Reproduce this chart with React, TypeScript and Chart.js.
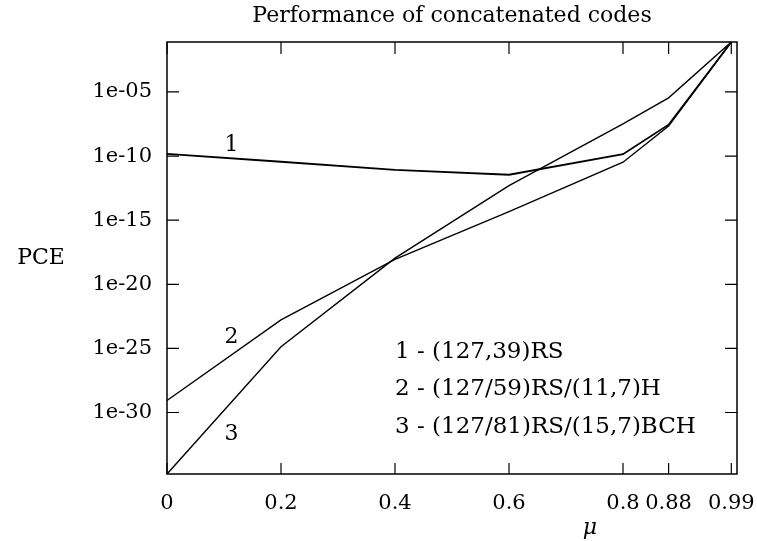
import React, { useEffect, useRef } from 'react';
import { Chart, registerables } from 'chart.js';

Chart.register(...registerables);

// ---- data ----
const muValues = [0, 0.2, 0.4, 0.6, 0.8, 0.88, 0.99];
const xTickValues = [0, 0.2, 0.4, 0.6, 0.8, 0.88, 0.99];
const yTickValues = [1e-5, 1e-10, 1e-15, 1e-20, 1e-25, 1e-30];
const pceRS127_39 = [1.5e-10, 3.6e-11, 8.3e-12, 3.5e-12, 1.4e-10, 2.8e-8, 0.079];
const pceRS59_H11_7 = [8.7e-30, 1.7e-23, 8.9e-19, 4.7e-15, 3.3e-11, 2.2e-8, 0.079];
const pceRS81_BCH15_7 = [1.6e-35, 1.35e-25, 1.1e-18, 5e-13, 3.2e-8, 3.5e-6, 0.079];
const seriesNames = ['1 - (127,39)RS', '2 - (127/59)RS/(11,7)H', '3 - (127/81)RS/(15,7)BCH'];
const curveTags = ['1', '2', '3'];
const curveTagMu = [0.113, 0.113, 0.113];
const curveTagPce = [7e-10, 8e-25, 2e-32];
const yMin = 1.6e-35;
const yMax = 0.079;

const FONT = 'DejaVu Serif';

function fmtExp(v: number): string {
  const e = Math.round(Math.log10(v));
  const a = Math.abs(e);
  return '1e' + (e < 0 ? '-' : '+') + (a < 10 ? '0' + a : String(a));
}

const framePlugin = {
  id: 'frameAndText',
  afterDatasetsDraw(chart: any) {
    const { ctx, chartArea } = chart;
    const { left, right, top, bottom } = chartArea;
    const xs = chart.scales.x;
    const ys = chart.scales.y;
    ctx.save();
    ctx.strokeStyle = '#000';
    ctx.lineWidth = 1.5;
    ctx.strokeRect(left, top, right - left, bottom - top);
    ctx.lineWidth = 1.2;
    ctx.beginPath();
    xTickValues.forEach((v) => {
      const px = xs.getPixelForValue(v);
      ctx.moveTo(px, bottom);
      ctx.lineTo(px, bottom - 11);
      ctx.moveTo(px, top);
      ctx.lineTo(px, top + 12);
    });
    yTickValues.forEach((v) => {
      const py = ys.getPixelForValue(v);
      ctx.moveTo(left, py);
      ctx.lineTo(left + 12, py);
      ctx.moveTo(right, py);
      ctx.lineTo(right - 12, py);
    });
    ctx.stroke();

    ctx.fillStyle = '#000';
    ctx.font = `22px "${FONT}"`;
    ctx.textBaseline = 'middle';
    // curve tags
    ctx.textAlign = 'center';
    curveTags.forEach((t, i) => {
      ctx.fillText(t, xs.getPixelForValue(curveTagMu[i]), ys.getPixelForValue(curveTagPce[i]));
    });
    // legend text
    ctx.font = `23px "${FONT}"`;
    ctx.textAlign = 'left';
    seriesNames.forEach((s, i) => {
      ctx.fillText(s, left + 228, top + 310 + i * 37.5);
    });
    // y axis title
    ctx.font = `22px "${FONT}"`;
    ctx.textAlign = 'center';
    ctx.fillText('PCE', 41, (top + bottom) / 2);
    // x axis title
    ctx.font = `italic 22px "${FONT}"`;
    ctx.fillText('\u03BC', left + 423, bottom + 54);
    ctx.restore();
  },
};

export default function App() {
  const ref = useRef<HTMLCanvasElement | null>(null);
  useEffect(() => {
    document.body.style.margin = '0';
    const canvas = ref.current;
    if (!canvas) return;
    const mk = (arr: number[]) => muValues.map((m, i) => ({ x: m, y: arr[i] }));
    const common = { borderColor: '#000', pointRadius: 0, tension: 0, fill: false, clip: 3 };
    const chart = new Chart(canvas, {
      type: 'line',
      data: {
        datasets: [
          { label: seriesNames[0], data: mk(pceRS127_39), borderWidth: 1.8, ...common },
          { label: seriesNames[1], data: mk(pceRS59_H11_7), borderWidth: 1.4, ...common },
          { label: seriesNames[2], data: mk(pceRS81_BCH15_7), borderWidth: 1.4, ...common },
        ],
      },
      options: {
        responsive: false,
        animation: false,
        devicePixelRatio: 1,
        layout: { padding: { left: 0, right: 20, top: 0, bottom: 0 } },
        plugins: {
          legend: { display: false },
          tooltip: { enabled: false },
          title: {
            display: true,
            fullSize: false,
            align: 'center',
            text: 'Performance of concatenated codes',
            color: '#000',
            font: { family: FONT, size: 22, weight: 'normal' },
            padding: { top: 3, bottom: 12.6 },
          },
        },
        scales: {
          x: {
            type: 'linear',
            min: 0,
            max: 1.0,
            afterBuildTicks: (s: any) => {
              s.ticks = xTickValues.map((v) => ({ value: v }));
            },
            afterFit: (s: any) => {
              s.height = 67;
              s.paddingLeft = 0;
              s.paddingRight = 0;
            },
            grid: { display: false, drawTicks: false },
            border: { display: false },
            ticks: {
              autoSkip: false,
              maxRotation: 0,
              padding: 17,
              color: '#000',
              font: { family: FONT, size: 21 },
              callback: (v: any) => String(v),
            },
          },
          y: {
            type: 'logarithmic',
            min: yMin,
            max: yMax,
            afterBuildTicks: (s: any) => {
              s.ticks = yTickValues.map((v) => ({ value: v }));
            },
            afterFit: (s: any) => {
              s.width = 167;
              s.paddingTop = 0;
              s.paddingBottom = 0;
            },
            grid: { display: false, drawTicks: false },
            border: { display: false },
            ticks: {
              autoSkip: false,
              padding: 15,
              color: '#000',
              font: { family: FONT, size: 21 },
              callback: (v: any) => fmtExp(Number(v)),
            },
          },
        },
      },
      plugins: [framePlugin],
    } as any);
    return () => chart.destroy();
  }, []);
  return (
    <div style={{ width: 757, height: 541 }}>
      <canvas ref={ref} width={757} height={541} style={{ display: 'block' }} />
    </div>
  );
}
